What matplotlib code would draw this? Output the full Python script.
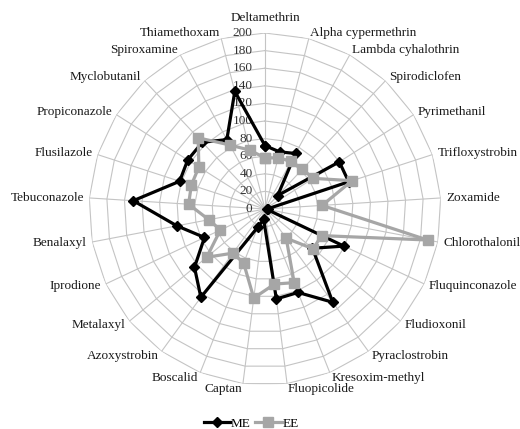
import numpy as np
import matplotlib.pyplot as plt

plt.rcParams['font.family'] = ['Liberation Serif', 'DejaVu Serif']

categories = ['Deltamethrin', 'Alpha cypermethrin', 'Lambda cyhalothrin', 'Spirodiclofen',
              'Pyrimethanil', 'Trifloxystrobin', 'Zoxamide', 'Chlorothalonil',
              'Fluquinconazole', 'Fludioxonil', 'Pyraclostrobin', 'Kresoxim-methyl',
              'Fluopicolide', 'Captan', 'Boscalid', 'Azoxystrobin', 'Metalaxyl',
              'Iprodione', 'Benalaxyl', 'Tebuconazole', 'Flusilazole', 'Propiconazole',
              'Myclobutanil', 'Spiroxamine', 'Thiamethoxam']
me = [72, 67, 72, 21, 100, 100, 3, 2, 99, 70, 131, 102, 103, 12, 22,
      124, 104, 76, 102, 150, 102, 104, 104, 90, 138]
ee = [58, 60, 62, 62, 65, 104, 65, 188, 71, 71, 41, 90, 86, 102, 66,
      62, 86, 56, 65, 87, 88, 89, 111, 83, 69]
r_ticks = [0, 20, 40, 60, 80, 100, 120, 140, 160, 180, 200]

n = len(categories)
angles = np.linspace(0, 2 * np.pi, n, endpoint=False)
closed = np.append(angles, angles[0])

fig = plt.figure(figsize=(5.2, 4.29), dpi=100)
# centre at (265, 209) px, radius 176 px
ax = fig.add_axes([(265 - 176) / 520, (429 - 209 - 176) / 429, 352 / 520, 352 / 429],
                  projection='polar')
ax.set_theta_zero_location('N')
ax.set_theta_direction(-1)
ax.set_ylim(0, 200)
ax.grid(False)
ax.spines['polar'].set_visible(False)
ax.set_xticks([])
ax.set_yticks([])
ax.patch.set_alpha(0)

grid_col = '#C4C4C4'
# polygon rings and spokes (straight lines, like Excel)
for r in r_ticks[1:]:
    ax.plot(closed, [r] * (n + 1), color=grid_col, lw=0.8, zorder=1)
for a in angles:
    ax.plot([a, a], [0, 200], color=grid_col, lw=0.8, zorder=1)

# value labels along the top spoke
for t in r_ticks:
    ax.annotate(str(t), xy=(0, t), xytext=(-9, 0), textcoords='offset points',
                ha='right', va='center', fontsize=9.5, color='#333333', zorder=2)

# category labels
for a, name in zip(angles, categories):
    s = np.sin(a)
    if abs(s) < 0.05:
        ha = 'center'
        r_lab = 217 if np.cos(a) > 0 else 212
    else:
        ha = 'left' if s > 0 else 'right'
        r_lab = 206
    ax.text(a, r_lab, name, ha=ha, va='center', fontsize=9.5, color='#1a1a1a')

ax.plot(closed, me + me[:1], color='black', lw=2.3, marker='D', ms=5.5,
        label='ME', zorder=3, clip_on=False)
ax.plot(closed, ee + ee[:1], color='#A6A6A6', lw=2.3, marker='s', ms=6.5,
        label='EE', zorder=4, clip_on=False)

fig.legend(loc='center', bbox_to_anchor=(0.483, 0.012), ncol=2, frameon=False,
           fontsize=9.5, handlelength=2.0, columnspacing=0.35, handletextpad=0.05,
           borderaxespad=0)

fig.savefig('out.png', dpi=100)
